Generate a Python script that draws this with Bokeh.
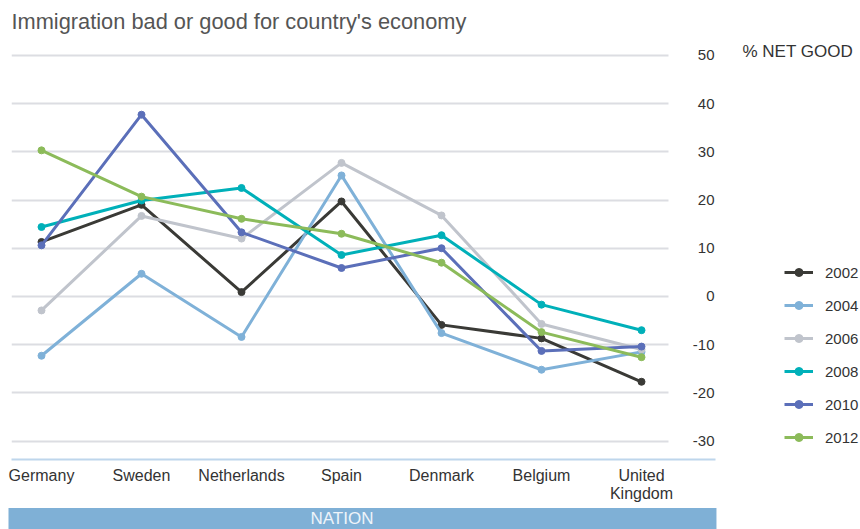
from bokeh.plotting import figure
from bokeh.models import FixedTicker, Legend, LegendItem, Label, BoxAnnotation, Title
from bokeh.embed import file_html
from bokeh.resources import INLINE

countries = ["Germany", "Sweden", "Netherlands", "Spain", "Denmark", "Belgium", "United\nKingdom"]
years = ["2002", "2004", "2006", "2008", "2010", "2012"]
y2002 = [11.3, 19.0, 0.9, 19.7, -5.9, -8.7, -17.7]
y2004 = [-12.3, 4.7, -8.4, 25.1, -7.6, -15.2, -11.5]
y2006 = [-2.9, 16.7, 12.0, 27.7, 16.8, -5.7, -11.0]
y2008 = [14.4, 19.9, 22.5, 8.6, 12.7, -1.7, -7.0]
y2010 = [10.6, 37.7, 13.3, 5.9, 10.0, -11.3, -10.4]
y2012 = [30.3, 20.7, 16.1, 13.0, 7.0, -7.4, -12.6]
y_ticks = [-30, -20, -10, 0, 10, 20, 30, 40, 50]
colors = ["#3a3a36", "#7fb1d8", "#c0c4cc", "#00b0b9", "#5b6fb9", "#8cbb5a"]
series = [y2002, y2004, y2006, y2008, y2010, y2012]

FONT = "Liberation Sans"
x_idx = list(range(len(countries)))

p = figure(width=860, height=529, output_backend="svg", toolbar_location=None,
           x_range=(-0.30, 8.19), y_range=(-33.82, 53.5), y_axis_location="left",
           min_border_left=11, min_border_right=0, min_border_top=38, min_border_bottom=70,
           title="Immigration bad or good for country's economy")

p.title.text_font = FONT
p.title.text_font_size = "21.8px"
p.title.text_font_style = "normal"
p.title.text_color = "#555555"
p.title.standoff = 10
p.title.offset = 0

p.outline_line_color = None
p.background_fill_color = "white"
p.border_fill_color = "white"

# x axis (nations)
p.xaxis.ticker = FixedTicker(ticks=x_idx)
p.xaxis.major_label_overrides = {i: c for i, c in zip(x_idx, countries)}
p.xaxis.bounds = (-0.33, 6.74)
p.xaxis.axis_line_color = "#bed6ec"
p.xaxis.axis_line_width = 2
p.xaxis.major_tick_line_color = None
p.xaxis.minor_tick_line_color = None
p.xaxis.major_tick_in = 0
p.xaxis.major_tick_out = 0
p.xaxis.axis_label_standoff = 0
p.xaxis.major_label_standoff = 7
p.xaxis.major_label_text_font = FONT
p.xaxis.major_label_text_font_size = "16px"
p.xaxis.major_label_text_line_height = 1.1
p.xaxis.major_label_text_color = "#333333"
p.xgrid.visible = False

# y axis drawn at the right end of the plotting area
p.yaxis.ticker = FixedTicker(ticks=y_ticks)
p.yaxis.major_label_overrides = {t: str(t) for t in y_ticks}
p.yaxis.fixed_location = 6.73
p.yaxis.axis_line_color = None
p.yaxis.major_tick_line_color = None
p.yaxis.minor_tick_line_color = None
p.yaxis.major_tick_in = 0
p.yaxis.major_tick_out = 0
p.yaxis.major_label_standoff = 0
p.yaxis.major_label_text_font = FONT
p.yaxis.major_label_text_font_size = "15px"
p.yaxis.major_label_text_color = "#333333"
p.ygrid.ticker = FixedTicker(ticks=y_ticks)
p.ygrid.grid_line_color = "#dcdde2"
p.ygrid.grid_line_width = 2

# keep gridlines to the data area only
p.add_layout(BoxAnnotation(left=6.27, fill_color="white", fill_alpha=1, line_color=None, level="underlay"))

items = []
for yr, ys, col in zip(years, series, colors):
    ln = p.line(x_idx, ys, line_color=col, line_width=3)
    sc = p.scatter(x_idx, ys, size=7, fill_color=col, line_color=col)
    items.append(LegendItem(label=yr, renderers=[ln, sc]))

legend = Legend(items=items, location=(773, 12), border_line_color=None,
                background_fill_alpha=0, padding=5, margin=0, spacing=13,
                glyph_width=29, glyph_height=20, label_height=20, label_standoff=12,
                label_text_font=FONT, label_text_font_size="15px", label_text_color="#333333")
p.add_layout(legend, "center")

p.add_layout(Label(x=7.01, y=50, y_offset=4, text="% NET GOOD", text_font=FONT, text_font_size="17px",
                   text_color="#333333", text_baseline="middle", text_align="left"))

nation = Title(text="NATION", align="left", offset=-3, standoff=1,
               text_font=FONT, text_font_size="17px", text_font_style="normal", text_color="#eef4fa",
               background_fill_color="#7fb0d6", background_fill_alpha=1,
               padding=dict(left=302, right=343, top=1, bottom=1))
p.add_layout(nation, "below")

open("out.html", "w").write(file_html(p, INLINE))
